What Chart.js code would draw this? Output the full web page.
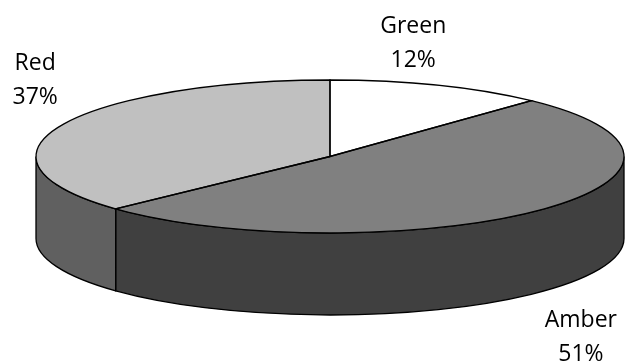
<!DOCTYPE html>
<html>
<head>
<meta charset="utf-8">
<script src="https://cdn.jsdelivr.net/npm/chart.js@4/dist/chart.umd.min.js"></script>
<style>
  html, body { margin: 0; padding: 0; background: #ffffff; }
  #wrap { width: 625px; height: 363px; }
</style>
</head>
<body>
<div id="wrap"><canvas id="pie" width="625" height="363"></canvas></div>
<script>
// Status shares (percent)
const categories = ['Green', 'Amber', 'Red'];
const shares = [12, 51, 37];

// Styling kept apart from the data
const topColors = ['#ffffff', '#808080', '#c0c0c0'];
const sideColors = ['#ffffff', '#404040', '#606060'];
// Label box centre offset from the slice's outer point (px)
const labelShift = [[-25, -41], [43, 45.5], [-25, -45]];

const geom = { cx: 330, cy: 156.5, rx: 294, ry: 76.5, depth: 82 };
const FONT = '23px "Open Sans", Lato, sans-serif';

const tilt3d = {
  id: 'tilt3d',
  beforeDatasetsDraw(chart) {
    const ctx = chart.ctx;
    const arcs = chart.getDatasetMeta(0).data;
    const { cx, cy, rx, ry, depth } = geom;
    // Front walls: only the part of each slice facing the viewer (0..PI)
    ctx.save();
    ctx.lineWidth = 1.3;
    ctx.strokeStyle = '#000';
    arcs.forEach((arc, i) => {
      const { startAngle, endAngle } = arc.getProps(['startAngle', 'endAngle'], true);
      const a0 = Math.max(startAngle, 0);
      const a1 = Math.min(endAngle, Math.PI);
      if (a1 <= a0) return;
      ctx.beginPath();
      ctx.ellipse(cx, cy, rx, ry, 0, a0, a1);
      ctx.lineTo(cx + rx * Math.cos(a1), cy + ry * Math.sin(a1) + depth);
      ctx.ellipse(cx, cy + depth, rx, ry, 0, a1, a0, true);
      ctx.closePath();
      ctx.fillStyle = sideColors[i];
      ctx.fill();
      ctx.stroke();
    });
    ctx.restore();
    // Squash the library's round pie into the tilted top face
    const a = arcs[0];
    const R = a.outerRadius;
    ctx.save();
    ctx.translate(cx, cy);
    ctx.scale(rx / R, ry / R);
    ctx.translate(-a.x, -a.y);
  },
  afterDatasetsDraw(chart) {
    const ctx = chart.ctx;
    ctx.restore();
    const arcs = chart.getDatasetMeta(0).data;
    const { cx, cy, rx, ry, depth } = geom;
    const total = shares.reduce((s, v) => s + v, 0);
    ctx.save();
    ctx.lineWidth = 1.3;
    ctx.strokeStyle = '#000';
    arcs.forEach((arc) => {
      const { startAngle, endAngle } = arc.getProps(['startAngle', 'endAngle'], true);
      ctx.beginPath();
      ctx.moveTo(cx, cy);
      ctx.ellipse(cx, cy, rx, ry, 0, startAngle, endAngle);
      ctx.closePath();
      ctx.stroke();
    });
    // Category labels with their share
    ctx.fillStyle = '#000';
    ctx.font = FONT;
    ctx.textAlign = 'center';
    ctx.textBaseline = 'alphabetic';
    arcs.forEach((arc, i) => {
      const { startAngle, endAngle } = arc.getProps(['startAngle', 'endAngle'], true);
      const mid = (startAngle + endAngle) / 2;
      const s = Math.sin(mid);
      const ox = cx + rx * Math.cos(mid);
      const oy = cy + ry * s + (s > 0 ? depth : 0);
      const lx = ox + labelShift[i][0];
      const ly = oy + labelShift[i][1];
      const pct = Math.round(shares[i] / total * 100) + '%';
      ctx.fillText(categories[i], lx, ly - 11);
      ctx.fillText(pct, lx, ly + 23);
    });
    ctx.restore();
  }
};

new Chart(document.getElementById('pie'), {
  type: 'pie',
  data: {
    labels: categories,
    datasets: [{
      data: shares,
      backgroundColor: topColors,
      borderWidth: 0
    }]
  },
  options: {
    responsive: false,
    animation: false,
    layout: { padding: 0 },
    plugins: {
      legend: { display: false },
      tooltip: { enabled: false }
    }
  },
  plugins: [tilt3d]
});
</script>
</body>
</html>
